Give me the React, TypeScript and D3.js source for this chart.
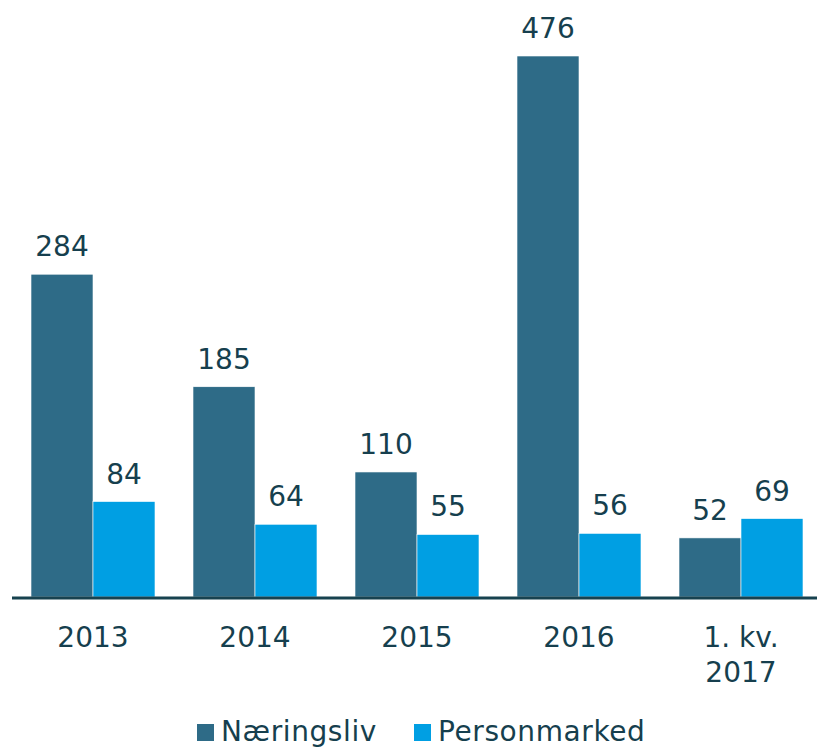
import React from "react";
import * as d3 from "d3";

const categories: string[][] = [["2013"], ["2014"], ["2015"], ["2016"], ["1. kv.", "2017"]];
const naeringsliv = [284, 185, 110, 476, 52];
const personmarked = [84, 64, 55, 56, 69];
const seriesNames = ["Næringsliv", "Personmarked"];
const colors = ["#2e6b87", "#009fe3"];
const textColor = "#163f4e";

export default function App() {
  const W = 817, H = 747;
  const baseline = 597;
  const x = d3.scaleBand<number>().domain(d3.range(categories.length)).range([12, 822]).paddingInner(0.2346).paddingOuter(0.1173);
  const y = d3.scaleLinear().domain([0, 476]).range([baseline, 56]);
  const xs = d3.scaleBand<number>().domain([0, 1]).range([0, x.bandwidth()]);
  const series = [naeringsliv, personmarked];
  const font = "'DejaVu Sans', Verdana, sans-serif";
  return (
    <svg width={W} height={H} style={{ position: "absolute", left: 0, top: 0 }} fontFamily={font}>
      {series.map((vals, si) =>
        vals.map((v, i) => {
          const bx = (x(i) as number) + (xs(si) as number);
          return (
            <g key={`${si}-${i}`}>
              <rect x={bx} y={y(v)} width={xs.bandwidth()} height={baseline - y(v)} fill={colors[si]} stroke="#ffffff" strokeWidth={0.6} />
              <text x={bx + xs.bandwidth() / 2} y={y(v) - 18} textAnchor="middle" fontSize={28} fill={textColor}>{v}</text>
            </g>
          );
        })
      )}
      <line x1={12} x2={W} y1={baseline + 1} y2={baseline + 1} stroke="#17424f" strokeWidth={3} />
      {categories.map((lines, i) => (
        <text key={i} x={(x(i) as number) + x.bandwidth() / 2} y={647} textAnchor="middle" fontSize={28} fill={textColor}>
          {lines.map((l, li) => (
            <tspan key={li} x={(x(i) as number) + x.bandwidth() / 2} dy={li === 0 ? 0 : 35}>{l}</tspan>
          ))}
        </text>
      ))}
      {seriesNames.map((n, i) => {
        const lx = [197, 414][i];
        return (
          <g key={n}>
            <rect x={lx} y={724} width={17} height={17} fill={colors[i]} />
            <text x={lx + 24} y={741} fontSize={28} letterSpacing={0.6} fill={textColor}>{n}</text>
          </g>
        );
      })}
    </svg>
  );
}
